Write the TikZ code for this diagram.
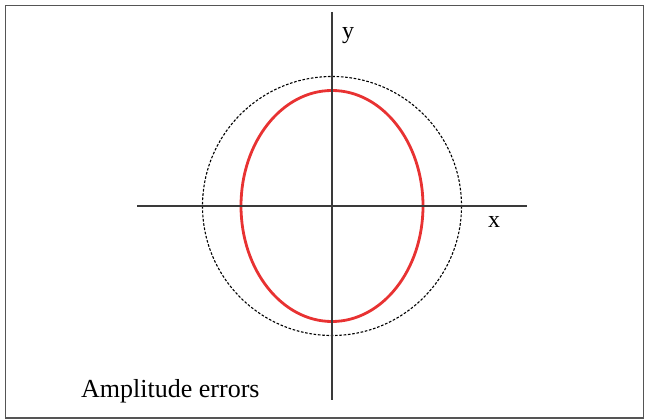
\documentclass[tikz,border=0pt]{standalone}
\usepackage{fontspec}
\setmainfont{Liberation Serif}
\definecolor{axisgray}{HTML}{3A3A3A}
\definecolor{framegray}{HTML}{555555}
\definecolor{ellred}{HTML}{E83232}
\tikzset{
  axisline/.style={draw=axisgray, line width=1.6pt},
  frameline/.style={draw=framegray, line width=1.6pt},
  refcircle/.style={draw=black, line width=1.1pt, dash pattern=on 2.6pt off 1.7pt},
  errellipse/.style={draw=ellred, line width=2.8pt},
  lbl/.style={font=\fontsize{24}{28}\selectfont, inner sep=0pt, anchor=base},
}
\begin{document}
\begin{tikzpicture}[x=1pt,y=-1pt]
\useasboundingbox (0,0) rectangle (647,419);
\draw[frameline] (5.5,5.5) rectangle (643.5,418);
\coordinate (O) at (332,206);
\coordinate (xl) at (137,206);
\coordinate (xr) at (527,206);
\coordinate (yt) at (332,12);
\coordinate (yb) at (332,400);
\draw[refcircle] (O) circle[radius=129.5];
\draw[errellipse] (O) ellipse[x radius=91, y radius=115.5];
\draw[axisline] (xl) -- (xr);
\draw[axisline] (yt) -- (yb);
\node[lbl] (ylab) at (348,38.5) {y};
\node[lbl] (xlab) at (494,228) {x};
\node[lbl, anchor=base west, font=\fontsize{26}{31}\selectfont] (title) at (81,397.5) {Amplitude errors};
\end{tikzpicture}
\end{document}
